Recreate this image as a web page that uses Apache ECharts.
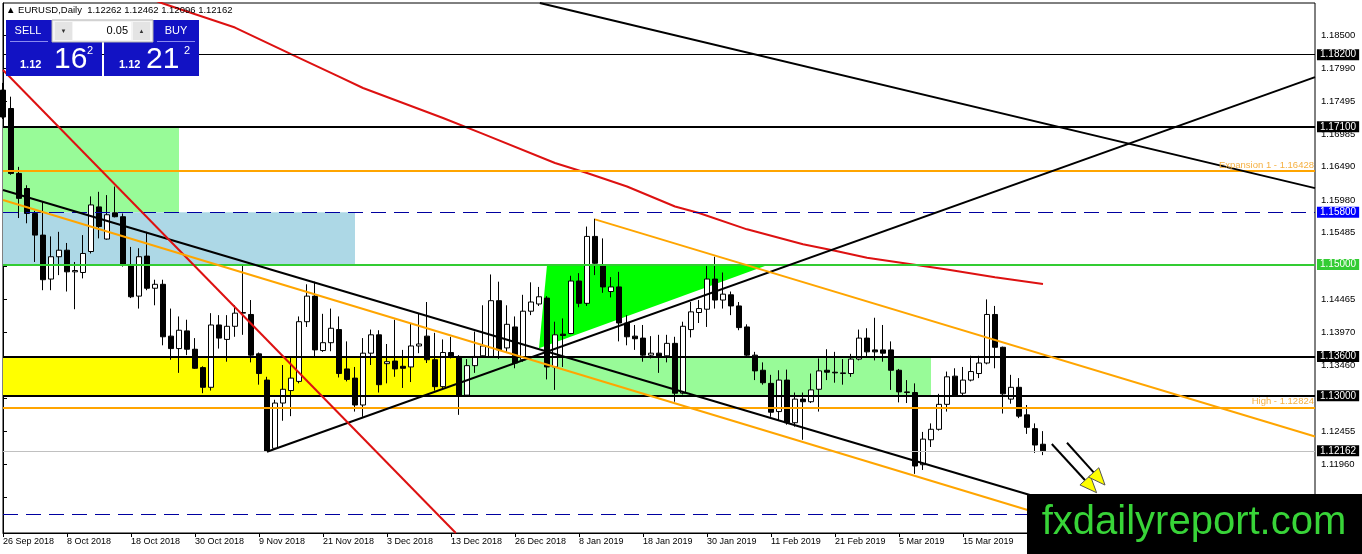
<!DOCTYPE html>
<html>
<head>
<meta charset="utf-8">
<title>EURUSD Daily</title>
<script src="https://cdn.jsdelivr.net/npm/echarts@6/dist/echarts.min.js"></script>
<style>
  html, body { margin: 0; padding: 0; background: #fff; }
  #main { width: 1362px; height: 554px; }
</style>
</head>
<body>
<div id="main"></div>
<script>
// daily candles, 26 Sep 2018 .. 29 Mar 2019
const opens = [
  1.1766, 1.1738, 1.1639, 1.1616, 1.1578, 1.1545, 1.1478, 1.1512, 1.1522, 1.1489,
  1.1488, 1.1520, 1.1588, 1.1539, 1.1579, 1.1573, 1.1499, 1.1452, 1.1513, 1.1464,
  1.1470, 1.1391, 1.1372, 1.1399, 1.1371, 1.1343, 1.1313, 1.1408, 1.1386, 1.1406,
  1.1426, 1.1424, 1.1364, 1.1324, 1.1220, 1.1289, 1.1308, 1.1322, 1.1413, 1.1452,
  1.1369, 1.1381, 1.1401, 1.1341, 1.1327, 1.1286, 1.1365, 1.1393, 1.1349, 1.1353,
  1.1345, 1.1344, 1.1376, 1.1391, 1.1355, 1.1314, 1.1366, 1.1360, 1.1301, 1.1346,
  1.1361, 1.1360, 1.1445, 1.1373, 1.1405, 1.1355, 1.1429, 1.1440, 1.1449, 1.1344,
  1.1394, 1.1395, 1.1475, 1.1441, 1.1543, 1.1499, 1.1459, 1.1466, 1.1411, 1.1391,
  1.1388, 1.1362, 1.1365, 1.1361, 1.1380, 1.1304, 1.1401, 1.1427, 1.1432, 1.1478,
  1.1446, 1.1454, 1.1437, 1.1405, 1.1362, 1.1339, 1.1319, 1.1276, 1.1324, 1.1259,
  1.1295, 1.1291, 1.1310, 1.1339, 1.1336, 1.1334, 1.1334, 1.1356, 1.1388, 1.1370,
  1.1370, 1.1370, 1.1339, 1.1306, 1.1305, 1.1195, 1.1233, 1.1249, 1.1287, 1.1330,
  1.1304, 1.1324, 1.1334, 1.1350, 1.1424, 1.1374, 1.1295, 1.1313, 1.1271, 1.1250,
  1.12262
];
const highs = [
  1.1777, 1.1756, 1.1649, 1.1621, 1.1582, 1.1596, 1.1543, 1.1550, 1.1533, 1.1504,
  1.1545, 1.1604, 1.1611, 1.1606, 1.1619, 1.1578, 1.1527, 1.1525, 1.1550, 1.1477,
  1.1477, 1.1433, 1.1421, 1.1416, 1.1388, 1.1345, 1.1426, 1.1423, 1.1423, 1.1438,
  1.1499, 1.1446, 1.1366, 1.1329, 1.1294, 1.1347, 1.1360, 1.1421, 1.1470, 1.1474,
  1.1425, 1.1433, 1.1421, 1.1383, 1.1344, 1.1388, 1.1401, 1.1400, 1.1379, 1.1416,
  1.1370, 1.1411, 1.1425, 1.1443, 1.1396, 1.1386, 1.1390, 1.1362, 1.1356, 1.1398,
  1.1438, 1.1485, 1.1474, 1.1438, 1.1421, 1.1454, 1.1473, 1.1466, 1.1452, 1.1413,
  1.1418, 1.1483, 1.1487, 1.1558, 1.1570, 1.1540, 1.1481, 1.1489, 1.1423, 1.1408,
  1.1408, 1.1391, 1.1393, 1.1393, 1.1390, 1.1413, 1.1443, 1.1446, 1.1499, 1.1512,
  1.1488, 1.1459, 1.1443, 1.1409, 1.1367, 1.1351, 1.1332, 1.1339, 1.1340, 1.1305,
  1.1305, 1.1334, 1.1357, 1.1371, 1.1367, 1.1356, 1.1364, 1.1401, 1.1403, 1.1419,
  1.1408, 1.1383, 1.1341, 1.1324, 1.1319, 1.1245, 1.1258, 1.1303, 1.1337, 1.1342,
  1.1344, 1.1361, 1.1361, 1.1447, 1.1437, 1.1375, 1.1332, 1.1327, 1.1286, 1.1258,
  1.12462
];
const lows = [
  1.1722, 1.1637, 1.1571, 1.1563, 1.1504, 1.1461, 1.1461, 1.1484, 1.1459, 1.1432,
  1.1479, 1.1517, 1.1540, 1.1538, 1.1572, 1.1497, 1.1449, 1.1433, 1.1461, 1.1438,
  1.1377, 1.1355, 1.1335, 1.1362, 1.1341, 1.1304, 1.1308, 1.1372, 1.1352, 1.1390,
  1.1393, 1.1351, 1.1317, 1.1215, 1.1218, 1.1262, 1.1269, 1.1319, 1.1405, 1.1359,
  1.1367, 1.1368, 1.1328, 1.1322, 1.1276, 1.1268, 1.1347, 1.1305, 1.1319, 1.1329,
  1.1312, 1.1321, 1.1365, 1.1350, 1.1308, 1.1312, 1.1357, 1.1271, 1.1300, 1.1335,
  1.1358, 1.1358, 1.1356, 1.1367, 1.1342, 1.1352, 1.1423, 1.1437, 1.1325, 1.1309,
  1.1344, 1.1394, 1.1435, 1.1437, 1.1484, 1.1457, 1.1450, 1.1383, 1.1377, 1.1370,
  1.1352, 1.1357, 1.1335, 1.1351, 1.1291, 1.1302, 1.1389, 1.1411, 1.1405, 1.1433,
  1.1433, 1.1423, 1.1400, 1.1360, 1.1324, 1.1317, 1.1268, 1.1263, 1.1256, 1.1253,
  1.1233, 1.1289, 1.1276, 1.1324, 1.1320, 1.1317, 1.1329, 1.1354, 1.1360, 1.1354,
  1.1352, 1.1309, 1.1290, 1.1289, 1.1181, 1.1187, 1.1222, 1.1247, 1.1276, 1.1299,
  1.1300, 1.1322, 1.1327, 1.1348, 1.1342, 1.1273, 1.1288, 1.1266, 1.1242, 1.1213,
  1.12096
];
const closes = [
  1.1725, 1.1639, 1.1601, 1.1578, 1.1545, 1.1477, 1.1512, 1.1522, 1.1489, 1.1491,
  1.1517, 1.1591, 1.1558, 1.1576, 1.1573, 1.1499, 1.1451, 1.1512, 1.1464, 1.1470,
  1.1390, 1.1372, 1.1400, 1.1371, 1.1342, 1.1313, 1.1408, 1.1388, 1.1406, 1.1426,
  1.1427, 1.1362, 1.1334, 1.1216, 1.1289, 1.1310, 1.1327, 1.1413, 1.1452, 1.1370,
  1.1381, 1.1403, 1.1334, 1.1325, 1.1286, 1.1365, 1.1393, 1.1317, 1.1352, 1.1341,
  1.1342, 1.1376, 1.1379, 1.1355, 1.1314, 1.1366, 1.1359, 1.1301, 1.1346, 1.1360,
  1.1376, 1.1445, 1.1370, 1.1409, 1.1350, 1.1429, 1.1443, 1.1451, 1.1344, 1.1393,
  1.1392, 1.1475, 1.1441, 1.1543, 1.1502, 1.1466, 1.1466, 1.1411, 1.1390, 1.1387,
  1.1362, 1.1365, 1.1360, 1.1380, 1.1304, 1.1406, 1.1428, 1.1433, 1.1478, 1.1446,
  1.1455, 1.1437, 1.1404, 1.1362, 1.1338, 1.1320, 1.1275, 1.1324, 1.1259, 1.1295,
  1.1291, 1.1309, 1.1338, 1.1336, 1.1335, 1.1335, 1.1356, 1.1388, 1.1367, 1.1367,
  1.1365, 1.1339, 1.1306, 1.1305, 1.1193, 1.1234, 1.1249, 1.1287, 1.1329, 1.1301,
  1.1324, 1.1337, 1.1350, 1.1424, 1.1374, 1.1303, 1.1313, 1.1269, 1.1252, 1.1225,
  1.12162
];

// one label every 8 bars, starting at the first bar
const dateLabels = [
  '26 Sep 2018', '8 Oct 2018', '18 Oct 2018', '30 Oct 2018', '9 Nov 2018', '21 Nov 2018',
  '3 Dec 2018', '13 Dec 2018', '26 Dec 2018', '8 Jan 2019', '18 Jan 2019', '30 Jan 2019',
  '11 Feb 2019', '21 Feb 2019', '5 Mar 2019', '15 Mar 2019'
];
const priceTicks = [1.185, 1.1799, 1.17495, 1.16985, 1.1649, 1.1598, 1.15485, 1.14975,
  1.14465, 1.1397, 1.1346, 1.12965, 1.12455, 1.1196, 1.1145];

// red moving average (bar index, price)
const maPoints = [
  [17, 1.1912], [20, 1.1898], [29, 1.18614], [36, 1.1821], [42, 1.17867], [45, 1.17692],
  [55, 1.17235], [60, 1.16992], [69, 1.16549], [73, 1.16396], [78, 1.16191], [84, 1.15886],
  [87, 1.15787], [93, 1.15538], [100, 1.1531], [104, 1.15212], [108, 1.15105],
  [118, 1.14924], [124, 1.14808], [130, 1.14704]
];

// horizontal levels
const levelPrices = [1.182, 1.171, 1.16428, 1.158, 1.15, 1.136, 1.13, 1.12824, 1.12162, 1.112];
const levelTexts = ['', '', 'Expansion 1 - 1.16428', '', '', '', '', 'High - 1.12824', '', ''];

// trend lines: [startBar, startPrice, endBar, endPrice]
const trendBlackDown1 = [0, 1.16137, 131, 1.11392];
const trendBlackDown2 = [67.1, 1.18988, 164, 1.16166];
const trendBlackUp = [33, 1.12148, 164, 1.17858];
const trendRed = [0, 1.17966, 56.6, 1.10909];
const trendOrangeLow = [0, 1.15985, 132, 1.11114];
const trendOrangeHigh = [74, 1.1569, 164, 1.1238];

// rectangles: [fromBar, toBar, topPrice, bottomPrice]
const boxGreenTop = [0, 22, 1.171, 1.158];
const boxBlue = [0, 44, 1.158, 1.15];
const boxYellow = [0, 57, 1.136, 1.13];
const boxGreenMid = [57, 116, 1.136, 1.13];

// triangle vertices (bar, price)
const triangle = [68, 1.1499, 67, 1.13724, 95.5, 1.1499];

// arrows: [fromBar, fromPrice, toBar, toPrice]
const arrows = [
  [131.1, 1.12265, 136.7, 1.11523],
  [133, 1.12285, 137.75, 1.1164]
];

const Y_MIN = 1.10909, Y_MAX = 1.18988;
const SLOTS = 165;
const FONT = "'Liberation Sans', Arial, sans-serif";

const chart = echarts.init(document.getElementById('main'));
const candles = opens.map((o, k) => [o, closes[k], lows[k], highs[k]]);
const slots = Array.from({ length: SLOTS }, (_, k) => String(k));
const showDate = (k) => k % 8 === 0 && k / 8 < dateLabels.length;

const box = (r, color) => [
  { xAxis: r[0], yAxis: r[2], itemStyle: { color: color, opacity: 1 } },
  { xAxis: r[1], yAxis: r[3] }
];
const seg = (t, color, width) => [
  { coord: [t[0], t[1]], lineStyle: { color: color, width: width, type: 'solid' } },
  { coord: [t[2], t[3]] }
];

const levelStyle = {
  1.182: { color: '#000', width: 1, box: '#000' },
  1.171: { color: '#000', width: 2, box: '#000' },
  1.16428: { color: '#ffa500', width: 2 },
  1.158: { color: '#0000a0', width: 1, type: [15, 8], box: '#0000ff' },
  1.15: { color: '#33cc33', width: 2, box: '#33cc33' },
  1.136: { color: '#000', width: 2, box: '#000' },
  1.13: { color: '#000', width: 2, box: '#000' },
  1.12824: { color: '#ffa500', width: 2 },
  1.12162: { color: '#c0c0c0', width: 1, box: '#000' },
  1.112: { color: '#0000a0', width: 1, type: [15, 8] }
};

const levelLines = levelPrices.map((p, k) => {
  const s = levelStyle[p];
  let label = { show: false };
  if (s.box) {
    label = {
      show: true, position: 'end', distance: 2, formatter: p.toFixed(5),
      backgroundColor: s.box, color: '#fff', padding: [1, 3, 0, 3],
      fontSize: 10, fontFamily: FONT
    };
  } else if (levelTexts[k]) {
    label = {
      show: true, position: 'insideEndTop', distance: 1, formatter: levelTexts[k],
      color: '#f5b041', fontSize: 9.5, fontFamily: FONT
    };
  }
  return {
    yAxis: p,
    lineStyle: { color: s.color, width: s.width, type: s.type || 'solid' },
    label: label
  };
});

const last = opens.length - 1;
const header = '\u25B2 EURUSD,Daily  ' + [opens[last], highs[last], lows[last], closes[last]]
  .map(v => v.toFixed(5)).join(' ');

const option = {
  animation: false,
  backgroundColor: '#fff',
  grid: { left: 3, right: 47, top: 3, bottom: 21, show: true, borderColor: '#000', borderWidth: 1 },
  xAxis: [
    {
      type: 'category', data: slots, boundaryGap: false,
      axisLine: { lineStyle: { color: '#000' } },
      axisTick: { interval: showDate, length: 4, lineStyle: { color: '#000' } },
      axisLabel: {
        interval: showDate, formatter: (v, k) => dateLabels[k / 8] || '',
        align: 'left', margin: 4, fontSize: 9, color: '#000', fontFamily: FONT
      },
      splitLine: { show: false }
    },
    { type: 'value', min: 0, max: SLOTS - 1, show: false }
  ],
  yAxis: {
    type: 'value', position: 'right', min: Y_MIN, max: Y_MAX,
    axisLine: { show: true, lineStyle: { color: '#000' } },
    axisTick: { show: true, customValues: priceTicks, length: 4, lineStyle: { color: '#000' } },
    axisLabel: {
      customValues: priceTicks, interval: 0, hideOverlap: false, formatter: v => v.toFixed(5),
      fontSize: 9.5, color: '#000', margin: 6, fontFamily: FONT
    },
    splitLine: { show: false }
  },
  series: [
    {
      name: 'zones', type: 'line', xAxisIndex: 1, data: [], z: 1,
      markArea: {
        silent: true,
        data: [
          box(boxGreenTop, '#98fb98'),
          box(boxBlue, '#add8e6'),
          box(boxYellow, '#ffff00'),
          box(boxGreenMid, '#98fb98')
        ]
      }
    },
    {
      name: 'triangle', type: 'custom', xAxisIndex: 1, z: 2, silent: true,
      data: [triangle],
      encode: { x: [0, 2, 4], y: [1, 3, 5] },
      renderItem: (params, api) => {
        const pts = [0, 2, 4].map(d => api.coord([api.value(d), api.value(d + 1)]));
        return { type: 'polygon', shape: { points: pts }, style: { fill: '#00ff00' } };
      }
    },
    {
      name: 'EURUSD', type: 'candlestick', data: candles, z: 3, barWidth: 5,
      itemStyle: { color: '#fff', color0: '#000', borderColor: '#000', borderColor0: '#000', borderWidth: 1 }
    },
    {
      name: 'MA', type: 'line', xAxisIndex: 1, data: maPoints, z: 4,
      showSymbol: false, lineStyle: { color: '#dd1111', width: 2 }
    },
    {
      name: 'lines', type: 'line', xAxisIndex: 1, data: [], z: 5,
      markLine: {
        silent: true, symbol: ['none', 'none'], precision: 5,
        data: levelLines.concat([
          seg(trendBlackDown1, '#000', 2),
          seg(trendBlackDown2, '#000', 2),
          seg(trendBlackUp, '#000', 2),
          seg(trendRed, '#dd1111', 2),
          seg(trendOrangeLow, '#ffa500', 2),
          seg(trendOrangeHigh, '#ffa500', 2)
        ])
      }
    },
    {
      name: 'arrows', type: 'custom', xAxisIndex: 1, z: 6, silent: true,
      data: arrows,
      encode: { x: [0, 2], y: [1, 3] },
      renderItem: (params, api) => {
        const a = api.coord([api.value(0), api.value(1)]);
        const b = api.coord([api.value(2), api.value(3)]);
        const dx = b[0] - a[0], dy = b[1] - a[1];
        const len = Math.sqrt(dx * dx + dy * dy);
        const ux = dx / len, uy = dy / len;
        const bx = b[0] - ux * 17, by = b[1] - uy * 17;
        return {
          type: 'group',
          children: [
            { type: 'line', shape: { x1: a[0], y1: a[1], x2: bx, y2: by }, style: { stroke: '#000', lineWidth: 2 } },
            {
              type: 'polygon',
              shape: { points: [[b[0], b[1]], [bx - uy * 7, by + ux * 7], [bx + uy * 7, by - ux * 7]] },
              style: { fill: '#ffff00', stroke: '#555', lineWidth: 1 }
            }
          ]
        };
      }
    }
  ],
  graphic: [
    { type: 'text', z: 100, left: 6, top: 5, style: { text: header, fontSize: 9.5, fontFamily: FONT, fill: '#000' } },
    // one-click trading panel
    { type: 'rect', z: 100, shape: { x: 6, y: 20, width: 46, height: 22 }, style: { fill: '#1212c4' } },
    { type: 'rect', z: 100, shape: { x: 6, y: 42, width: 96, height: 34 }, style: { fill: '#1212c4' } },
    { type: 'rect', z: 100, shape: { x: 153, y: 20, width: 46, height: 22 }, style: { fill: '#1212c4' } },
    { type: 'rect', z: 100, shape: { x: 104, y: 42, width: 95, height: 34 }, style: { fill: '#1212c4' } },
    { type: 'rect', z: 100, shape: { x: 52, y: 20, width: 101, height: 22 }, style: { fill: '#f4f4f4', stroke: '#b0b0b0' } },
    { type: 'rect', z: 101, shape: { x: 73, y: 22, width: 58, height: 18 }, style: { fill: '#fff' } },
    { type: 'rect', z: 101, shape: { x: 55, y: 22, width: 17, height: 18 }, style: { fill: '#e4e4e4' } },
    { type: 'rect', z: 101, shape: { x: 133, y: 22, width: 17, height: 18 }, style: { fill: '#e4e4e4' } },
    { type: 'text', z: 102, x: 63.5, y: 31, style: { text: '\u25BC', fontSize: 6, fill: '#333', align: 'center', verticalAlign: 'middle' } },
    { type: 'text', z: 102, x: 141.5, y: 31, style: { text: '\u25B2', fontSize: 6, fill: '#333', align: 'center', verticalAlign: 'middle' } },
    { type: 'text', z: 102, x: 128, y: 31, style: { text: '0.05', fontSize: 11, fontFamily: FONT, fill: '#000', align: 'right', verticalAlign: 'middle' } },
    { type: 'text', z: 102, x: 28, y: 31, style: { text: 'SELL', fontSize: 11, fontFamily: FONT, fill: '#fff', align: 'center', verticalAlign: 'middle' } },
    { type: 'text', z: 102, x: 176, y: 31, style: { text: 'BUY', fontSize: 11, fontFamily: FONT, fill: '#fff', align: 'center', verticalAlign: 'middle' } },
    { type: 'line', z: 102, shape: { x1: 10, y1: 41.5, x2: 48, y2: 41.5 }, style: { stroke: '#8a8af0', lineWidth: 1 } },
    { type: 'line', z: 102, shape: { x1: 157, y1: 41.5, x2: 195, y2: 41.5 }, style: { stroke: '#8a8af0', lineWidth: 1 } },
    { type: 'text', z: 102, x: 20, y: 65, style: { text: '1.12', fontSize: 11, fontWeight: 'bold', fontFamily: FONT, fill: '#fff', verticalAlign: 'middle' } },
    { type: 'text', z: 102, x: 54, y: 60, style: { text: '16', fontSize: 30, fontFamily: "'Liberation Sans Narrow', " + FONT, fill: '#fff', verticalAlign: 'middle' } },
    { type: 'text', z: 102, x: 87, y: 51, style: { text: '2', fontSize: 11, fontFamily: FONT, fill: '#fff', verticalAlign: 'middle' } },
    { type: 'text', z: 102, x: 119, y: 65, style: { text: '1.12', fontSize: 11, fontWeight: 'bold', fontFamily: FONT, fill: '#fff', verticalAlign: 'middle' } },
    { type: 'text', z: 102, x: 146, y: 60, style: { text: '21', fontSize: 30, fontFamily: "'Liberation Sans Narrow', " + FONT, fill: '#fff', verticalAlign: 'middle' } },
    { type: 'text', z: 102, x: 184, y: 51, style: { text: '2', fontSize: 11, fontFamily: FONT, fill: '#fff', verticalAlign: 'middle' } },
    // site watermark
    { type: 'rect', z: 110, shape: { x: 1027, y: 494, width: 335, height: 60 }, style: { fill: '#000' } },
    { type: 'text', z: 111, x: 1194, y: 523, style: { text: 'fxdailyreport.com', fontSize: 40, fontFamily: FONT, fill: '#38d438', align: 'center', verticalAlign: 'middle' } }
  ]
};

chart.setOption(option);
</script>
</body>
</html>
